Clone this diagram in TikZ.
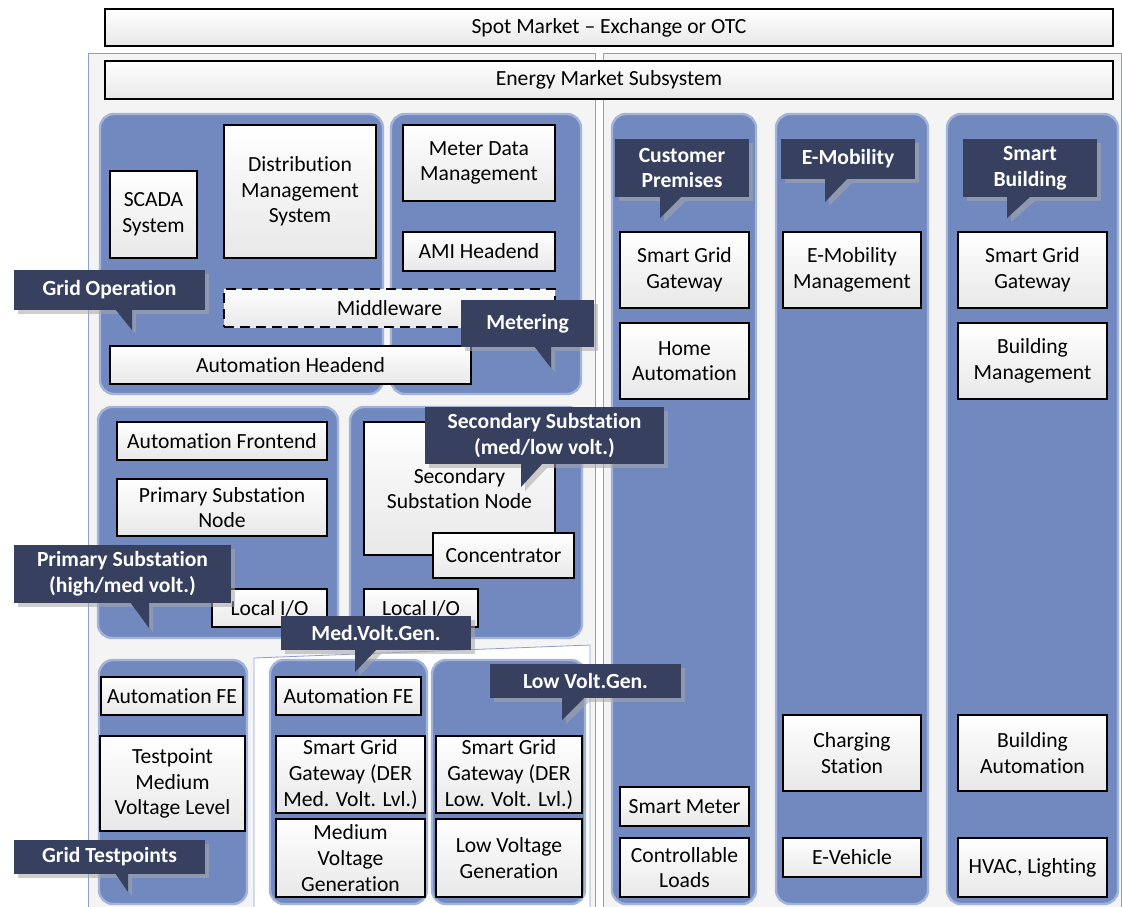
\documentclass[tikz,border=0pt]{standalone}
\usepackage{fontspec}
\setmainfont{Carlito}[Ligatures={TeX,CommonOff}]
\usepackage{tikz}

\definecolor{grpblue}{HTML}{7189BF}
\definecolor{grpedge}{HTML}{A3B4DA}
\definecolor{navy}{HTML}{37405F}
\definecolor{panelgray}{HTML}{F4F4F5}
\definecolor{panelline}{HTML}{8C9FCF}

\begin{document}
\begin{tikzpicture}[x=0.5pt,y=-0.5pt,
  box/.style={draw=black,line width=0.8pt,top color=white,bottom color=black!9,
    align=center,inner sep=1pt,font=\fontsize{10.8}{12.8}\selectfont},
  grp/.style={fill=grpblue,draw=grpedge,line width=1.2pt,rounded corners=7pt},
  panel/.style={fill=panelgray,draw=panelline,line width=0.4pt},
  callout/.style={fill=navy,text=white,align=center,inner sep=1pt,
    font=\fontsize{10.8}{12.8}\selectfont\bfseries},
  cshadow/.style={fill=gray!70,opacity=.55}]
\useasboundingbox (0,0) rectangle (1122,906);

% sheets behind
\draw[panel] (88,915) -- (88,53) -- (595,53) -- (595,915);
\draw[panel] (603,915) -- (603,53) -- (1121,53) -- (1121,915);
\draw[panel,fill=white] (254,915) -- (254,658) -- (590,645) -- (590,915);

% groups
\foreach \xa/\ya/\xb/\yb in {100/114/383/394, 391/114/581/394, 98/407/338/638,
  350/407/582/638, 99/660/247/904, 270/660/427/904, 432/660/585/904,
  612/114/756/904, 776/114/928/904, 947/114/1118/904}
  \draw[grp] (\xa,\ya) rectangle (\xb,\yb);

% components
\foreach \nm/\xa/\ya/\xb/\yb/\txt in {
  spot/105/9/1113/46/{Spot Market -- Exchange or OTC},
  ems/105/61/1113/99/Energy Market Subsystem,
  scada/110/171/197/258/SCADA\\System,
  dms/224/125/376/258/Distribution\\Management\\System,
  mdm/403/125/555/201/Meter Data\\Management,
  ami/403/232/555/271/AMI Headend,
  autohe/110/346/471/384/Automation Headend,
  autofe/117/422/327/460/Automation Frontend,
  psnode/117/479/327/536/Primary Substation\\Node,
  lioa/212/589/327/627/{Local I/O},
  ssnode/364/422/555/555/Secondary\\Substation Node,
  conc/433/533/574/578/Concentrator,
  liob/364/589/478/627/{Local I/O},
  tpfe/101/677/243/715/Automation FE,
  tpmv/100/736/245/831/Testpoint\\Medium\\Voltage Level,
  mvfe/276/677/421/715/Automation FE,
  mvsgg/276/736/425/813/Smart Grid\\Gateway (DER\\Med. Volt. Lvl.),
  mvgen/276/819/425/897/Medium\\Voltage\\Generation,
  lvsgg/436/736/582/813/Smart Grid\\Gateway (DER\\Low. Volt. Lvl.),
  lvgen/436/819/582/897/Low Voltage\\Generation,
  cpsgg/620/232/749/308/Smart Grid\\Gateway,
  cphome/620/323/749/399/Home\\Automation,
  cpmeter/620/787/749/826/Smart Meter,
  cpload/620/838/749/897/Controllable\\Loads,
  emman/783/232/921/308/E-Mobility\\Management,
  emcharge/783/715/921/791/Charging\\Station,
  emcar/783/838/921/877/E-Vehicle,
  sbsgg/958/232/1107/308/Smart Grid\\Gateway,
  sbman/958/323/1107/399/Building\\Management,
  sbauto/958/715/1107/791/Building\\Automation,
  sbhvac/958/838/1107/897/{HVAC, Lighting}}
  \node[box,minimum width={(\xb-\xa)*0.5pt},minimum height={(\yb-\ya)*0.5pt}]
    (\nm) at ({(\xa+\xb)/2},{(\ya+\yb)/2}) {\txt};

\node[box,dashed,dash pattern=on 5pt off 3pt,minimum width=165.5pt,minimum height=19pt]
  (mware) at (389.5,308) {Middleware};

% callouts
\foreach \nm/\xa/\ya/\xb/\yb/\pa/\pb/\pc/\py/\txt in {
  cgrid/14/270/205/310/115/132/132/330/Grid Operation,
  cmeter/461/300/594/347/534/551/551/368/Metering,
  cpsub/14/545/231/603/130/149/149/628/{Primary Substation\\(high/med volt.)},
  cssub/425/407/664/464/521/543/521/487/{Secondary Substation\\(med/low volt.)},
  cmv/281/616/471/650/355/377/355/672/Med.Volt.Gen.,
  clv/490/664/681/698/562/585/562/720/Low Volt.Gen.,
  ctest/14/840/205/874/115/128/128/892/Grid Testpoints,
  ccust/615/139/749/197/660/682/660/218/Customer\\Premises,
  cemob/781/139/915/179/825/848/825/202/E-Mobility,
  csmart/963/139/1097/197/1007/1031/1007/218/Smart\\Building}{
  \fill[cshadow] (\xa+4,\ya+4) rectangle (\xb+4,\yb+4);
  \fill[cshadow] (\pa+4,\yb+4) -- (\pb+4,\yb+4) -- (\pc+4,\py+4) -- cycle;
  \node[callout,minimum width={(\xb-\xa)*0.5pt},minimum height={(\yb-\ya)*0.5pt}]
    (\nm) at ({(\xa+\xb)/2},{(\ya+\yb)/2}) {\txt};
  \fill[navy] (\pa,\yb-1) -- (\pb,\yb-1) -- (\pc,\py) -- cycle;
}
\end{tikzpicture}
\end{document}
